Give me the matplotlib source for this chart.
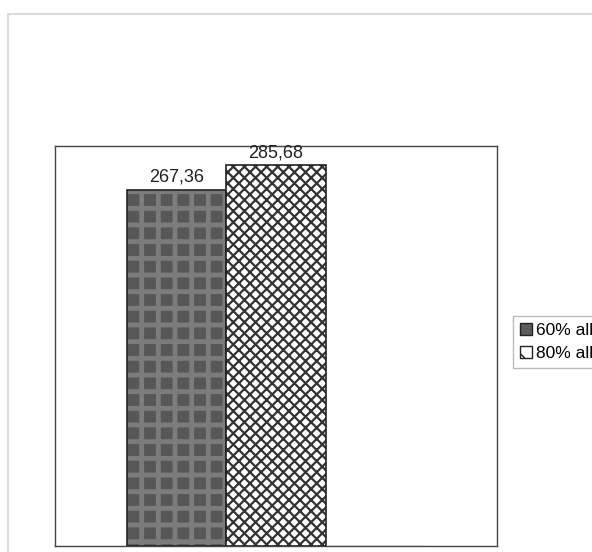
import matplotlib
matplotlib.use("Agg")
import matplotlib.pyplot as plt
from matplotlib.patches import Rectangle, Patch

plt.rcParams['font.family'] = ['Liberation Sans', 'DejaVu Sans']

series = ["60% all", "80% all", ""]
values = [267.36, 285.68, 0.0]
labels = ["267,36", "285,68", None]

fig = plt.figure(figsize=(5.92, 5.52), dpi=100)
fig.patches.append(Rectangle((8/592, -0.1), 1.2, 1 - 14/552 + 0.1, transform=fig.transFigure,
                             fill=False, edgecolor='#dcdcdc', linewidth=1.5))

ax = fig.add_axes([55/592, 6/552, 442/592, 400/552])
x = [-1, 0, 1]
w = 1.0

# bar 1: plaid
plt.rcParams['hatch.linewidth'] = 3.5
ax.bar(x[0], values[0], width=w, color='#575757', hatch='+', edgecolor='#7c7c7c', linewidth=0)
ax.bar(x[0], values[0], width=w, fill=False, edgecolor='#222222', linewidth=1.2)
# bar 2: diamond crosshatch
plt.rcParams['hatch.linewidth'] = 1.6
ax.bar(x[1], values[1], width=w, color='white', hatch='xxx', edgecolor='#333333', linewidth=0)
ax.bar(x[1], values[1], width=w, fill=False, edgecolor='#222222', linewidth=1.2)
# bar 3: zero value
ax.bar(x[2], values[2], width=w, color='white', edgecolor='#aaaaaa', linewidth=1.0)

for xi, v, lab in zip(x, values, labels):
    if lab:
        ax.text(xi, v + 3, lab, ha='center', va='bottom', fontsize=13, color='#222222')

ax.set_xlim(-2.232, 2.232)
ax.set_ylim(0, 300)
ax.set_xticks([])
ax.set_yticks([])
for s in ax.spines.values():
    s.set_color('#444444')
    s.set_linewidth(1.0)

plt.rcParams['hatch.linewidth'] = 1.0
handles = [Patch(facecolor='#5c5c5c', edgecolor='#222222', label=series[0]),
           Patch(facecolor='white', edgecolor='#222222', hatch='x', label=series[1])]
leg = fig.legend(handles=handles, loc='upper left', bbox_to_anchor=(513/592, 1 - 316/552),
                 frameon=True, fancybox=False, edgecolor='#aaaaaa', fontsize=12.5,
                 handlelength=0.7, handleheight=0.7, handletextpad=0.2,
                 borderpad=0.4, labelspacing=0.45, borderaxespad=0)
leg.get_frame().set_linewidth(1.0)

fig.savefig("out.png", dpi=100)
